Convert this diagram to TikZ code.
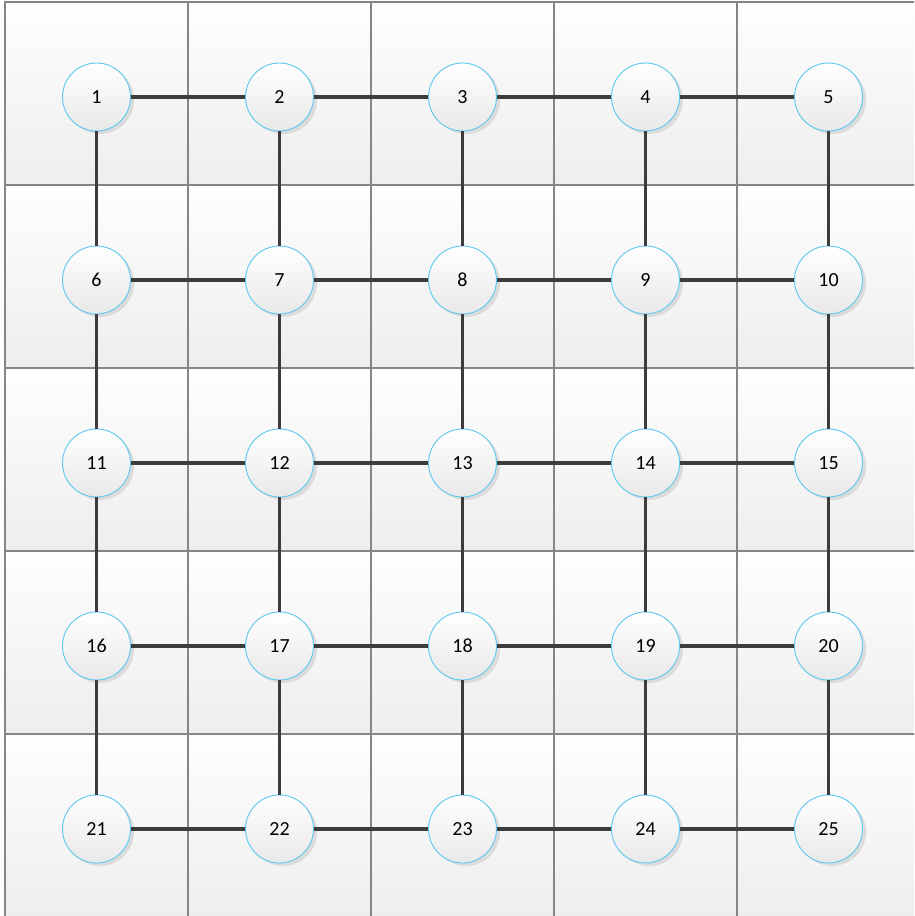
\documentclass[tikz,border=0pt]{standalone}
\usepackage{fontspec}
\setmainfont{Carlito}
\definecolor{cellborder}{HTML}{858585}
\definecolor{celltop}{HTML}{FEFEFE}
\definecolor{cellbot}{HTML}{EEEEEE}
\definecolor{ringblue}{HTML}{5BC8F0}
\definecolor{linkgray}{HTML}{3C3C3C}
\tikzset{
  cellbox/.style={draw=cellborder, line width=1.2pt, top color=celltop, bottom color=cellbot},
  vertex/.style={circle, minimum size=68pt, inner sep=0pt, draw=ringblue, line width=0.9pt,
    top color=white, bottom color=cellbot!95!gray, text=black, font=\fontsize{20}{20}\selectfont},
  shade2/.style={circle, minimum size=68pt, inner sep=0pt, fill=black!14},
  link/.style={draw=linkgray, line width=3.2pt}
}
\begin{document}
\begin{tikzpicture}[x=1pt,y=-1pt]
\useasboundingbox (0,0) rectangle (914,916);
\clip (0,0) rectangle (914,916);
\foreach \i in {0,...,4}{
  \foreach \j in {0,...,4}{
    \path[cellbox] (5+183*\i,2+183*\j) rectangle (188+183*\i,185+183*\j);
  }
}
\foreach \j in {0,...,4}{
  \foreach \i in {0,...,4}{
    \node[shade2] at (100+183*\i,100+183*\j) {};
  }
}
\foreach \j in {0,...,4}{
  \foreach \i in {0,...,4}{
    \pgfmathtruncatemacro{\n}{\j*5+\i+1}
    \node[vertex] (n\n) at (96.5+183*\i,97+183*\j) {\n};
  }
}
\foreach \j in {0,...,4}{
  \foreach \i in {1,...,4}{
    \pgfmathtruncatemacro{\a}{\j*5+\i}
    \pgfmathtruncatemacro{\b}{\j*5+\i+1}
    \path[link] (n\a) -- (n\b);
  }
}
\foreach \j in {0,...,3}{
  \foreach \i in {1,...,5}{
    \pgfmathtruncatemacro{\a}{\j*5+\i}
    \pgfmathtruncatemacro{\b}{\j*5+\i+5}
    \path[link] (n\a) -- (n\b);
  }
}
\end{tikzpicture}
\end{document}
